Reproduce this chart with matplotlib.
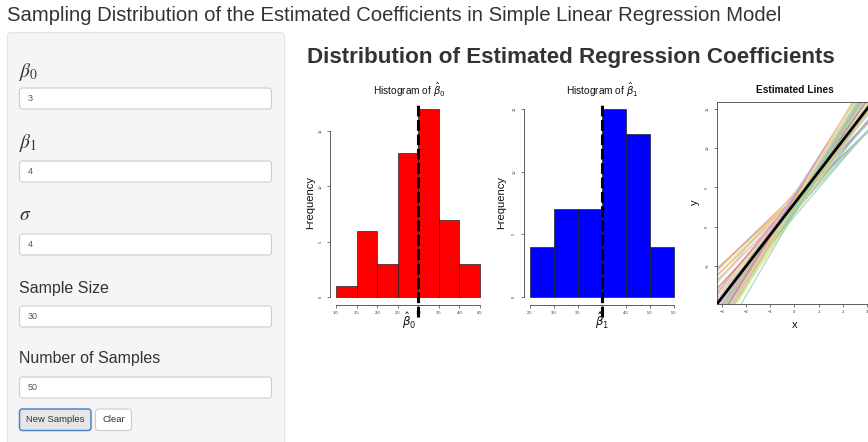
import matplotlib
matplotlib.use('Agg')
import matplotlib.pyplot as plt
from matplotlib.patches import FancyBboxPatch
from matplotlib.transforms import Bbox
import numpy as np

W, H = 868, 442
plt.rcParams['font.family'] = ['Liberation Sans', 'DejaVu Sans']
plt.rcParams['mathtext.fontset'] = 'dejavusans'

# ---------------- data ----------------
page_title = "Sampling Distribution of the Estimated Coefficients in Simple Linear Regression Model"
main_title = "Distribution of Estimated Regression Coefficients"
input_labels = [r'$\beta_0$', r'$\beta_1$', r'$\sigma$', 'Sample Size', 'Number of Samples']
input_values = ['3', '4', '4', '30', '50']
button_labels = ['New Samples', 'Clear']

beta0_true = 3
beta1_true = 4

b0_hat = [3.62, 3.46, 3.20, 4.08, 2.95, 3.75, 2.42, 3.35, 1.95, 3.05,
          2.61, 4.35, 1.30, 3.26, 2.80, 3.88, 1.72, 3.14, 2.53, 3.41,
          2.15, 3.55, 2.88, 1.65, 3.29, 2.69, 3.68, 3.02, 1.88, 3.38,
          2.77, 3.95, 3.11, 2.57, 3.44, 1.55, 3.23, 2.91, 4.20, 3.08,
          2.65, 3.49, 2.30, 3.17, 2.84, 3.82, 2.73, 3.32, 1.80, 2.98]
b1_hat = [2.78, 2.85, 2.92, 2.97, 3.05, 3.12, 3.20, 3.28, 3.35, 3.42,
          3.48, 3.55, 3.62, 3.70, 3.76, 3.83, 3.90, 3.96, 4.03, 4.07,
          4.10, 4.14, 4.18, 4.21, 4.25, 4.28, 4.31, 4.35, 4.38, 4.41,
          4.44, 4.47, 4.49, 4.53, 4.57, 4.60, 4.64, 4.68, 4.71, 4.75,
          4.79, 4.83, 4.87, 4.91, 4.95, 4.98, 5.06, 5.15, 5.27, 5.40]

b0_breaks = [1.0, 1.5, 2.0, 2.5, 3.0, 3.5, 4.0, 4.5]
b1_breaks = [2.5, 3.0, 3.5, 4.0, 4.5, 5.0, 5.5]
freq_ticks = [0, 5, 10, 15]
line_xticks = [-3, -2, -1, 0, 1, 2, 3]
line_yticks = [-5, 0, 5, 10, 15]

line_palette = ['#8dd3c7', '#e6e68a', '#bebada', '#fb8072', '#80b1d3', '#fdb462',
                '#b3de69', '#fccde5', '#bdbdbd', '#bc80bd', '#a8d8b0', '#e8d86f']

# ---------------- helpers ----------------
def rect(x0, y0, x1, y1):
    return [x0 / W, 1 - y1 / H, (x1 - x0) / W, (y1 - y0) / H]

fig = plt.figure(figsize=(W / 100, H / 100), dpi=100)
bg = fig.add_axes([0, 0, 1, 1])
bg.set_xlim(0, W)
bg.set_ylim(H, 0)
bg.axis('off')

# page title
bg.text(7, 15.5, page_title, fontsize=14.6, color='#333333', va='center', ha='left')

# sidebar
bg.add_patch(FancyBboxPatch((7.5, 32.5), 277, 420, boxstyle='round,pad=0,rounding_size=4',
                            fc='#f5f5f5', ec='#e3e3e3', lw=0.8))
label_y = [72, 143, 215, 289, 359]
box_top = [88, 161, 234, 306, 377]
for lab, val, ly, bt in zip(input_labels, input_values, label_y, box_top):
    if lab.startswith('$'):
        bg.text(19, ly, lab, fontsize=14, color='#333333', va='center', ha='left',
                math_fontfamily='stix')
    else:
        bg.text(19, ly, lab, fontsize=11.5, color='#333333', va='center', ha='left')
    bg.add_patch(FancyBboxPatch((19.5, bt), 252, 21, boxstyle='round,pad=0,rounding_size=3',
                                fc='white', ec='#cccccc', lw=0.8))
    bg.text(28, bt + 10.5, val, fontsize=6.5, color='#555555', va='center', ha='left')

# buttons
bg.add_patch(FancyBboxPatch((19.5, 409), 71.5, 21.5, boxstyle='round,pad=0,rounding_size=3',
                            fc='#e6e6e6', ec='#4a86c8', lw=1.1))
bg.text(55.2, 419.8, button_labels[0], fontsize=6.8, color='#333333', va='center', ha='center')
bg.add_patch(FancyBboxPatch((95.5, 409), 36, 21.5, boxstyle='round,pad=0,rounding_size=3',
                            fc='white', ec='#cccccc', lw=0.8))
bg.text(113.5, 419.8, button_labels[1], fontsize=6.8, color='#333333', va='center', ha='center')

# main title
bg.text(307, 58, main_title, fontsize=16.1, fontweight='bold', color='#333333',
        va='center', ha='left')

# ---------------- histograms ----------------
def hist_panel(box, data, breaks, color, xlim, ylim, true_val, sub, cx, ylab_x, clip_x):
    ax = fig.add_axes(rect(*box))
    ax.hist(data, bins=breaks, color=color, edgecolor='#222222', linewidth=0.5)
    ax.set_xlim(*xlim)
    ax.set_ylim(*ylim)
    ax.patch.set_alpha(0)
    for s in ['top', 'right']:
        ax.spines[s].set_visible(False)
    ax.spines['left'].set_bounds(freq_ticks[0], freq_ticks[-1])
    ax.spines['bottom'].set_bounds(breaks[0], breaks[-1])
    for s in ['left', 'bottom']:
        ax.spines[s].set_color('#444444')
        ax.spines[s].set_linewidth(0.6)
    ax.set_xticks(breaks)
    ax.set_xticklabels(['%.1f' % b for b in breaks])
    ax.set_yticks(freq_ticks)
    ax.tick_params(axis='both', labelsize=3, length=2, width=0.5, color='#444444',
                   labelcolor='#333333')
    ax.tick_params(axis='x', pad=2.5)
    ax.tick_params(axis='y', pad=3.5, labelrotation=90)
    for t in ax.get_yticklabels():
        t.set_va('center')
    ax.axvline(true_val, ymin=-0.06, ymax=1.0, clip_on=False, color='black', lw=2.2,
               ls=(0, (3.5, 1.2)), zorder=5)
    fig.text(cx / W, 1 - 90 / H, r'Histogram of $\hat{\beta}_%s$' % sub,
             fontsize=7.3, ha='center', va='center', color='#111111')
    fig.text(cx / W, 1 - 321 / H, r'$\hat{\beta}_%s$' % sub, fontsize=8.5,
             ha='center', va='center', color='#111111')
    t = fig.text(ylab_x / W, 1 - 203 / H, 'Frequency', fontsize=8, rotation=90,
                 ha='center', va='center', color='#111111')
    t.set_clip_box(Bbox([[clip_x, 0], [W, H]]))
    t.set_clip_on(True)
    return ax

hist_panel((330.2, 101.5, 485.8, 304.5), b0_hat, b0_breaks, '#ff0000', (0.86, 4.64),
           (-0.68, 17.68), beta0_true, '0', 409, 310.5, 305.5)
hist_panel((524, 101.5, 679.5, 304.5), b1_hat, b1_breaks, '#0000ff', (2.38, 5.62),
           (-0.6, 15.6), beta1_true, '1', 602, 501.5, 496.5)

# ---------------- estimated lines ----------------
ax3 = fig.add_axes(rect(717, 102, 872, 304))
ax3.set_xlim(-3.21, 3.21)
ax3.set_ylim(-9.84, 15.89)
for i, (a, b) in enumerate(zip(b0_hat, b1_hat)):
    ax3.axline((0, a), slope=b, color=line_palette[i % len(line_palette)], lw=1.0, alpha=0.75)
ax3.axline((0, beta0_true), slope=beta1_true, color='black', lw=2.0, zorder=5)
for s in ax3.spines.values():
    s.set_color('#444444')
    s.set_linewidth(0.6)
ax3.set_xticks(line_xticks)
ax3.set_yticks(line_yticks)
ax3.tick_params(axis='both', labelsize=3, length=2, width=0.5, color='#444444',
                labelcolor='#333333')
ax3.tick_params(axis='x', pad=2.5)
ax3.tick_params(axis='y', pad=3.5, labelrotation=90)
for t in ax3.get_yticklabels():
    t.set_va('center')
fig.text(795 / W, 1 - 90 / H, 'Estimated Lines', fontsize=7.3, fontweight='bold',
         ha='center', va='center', color='#111111')
fig.text(795 / W, 1 - 325 / H, 'x', fontsize=8, ha='center', va='center', color='#111111')
fig.text(695 / W, 1 - 202 / H, 'y', fontsize=8, rotation=90, ha='center', va='center',
         color='#111111')

fig.savefig('out.png', dpi=100)
